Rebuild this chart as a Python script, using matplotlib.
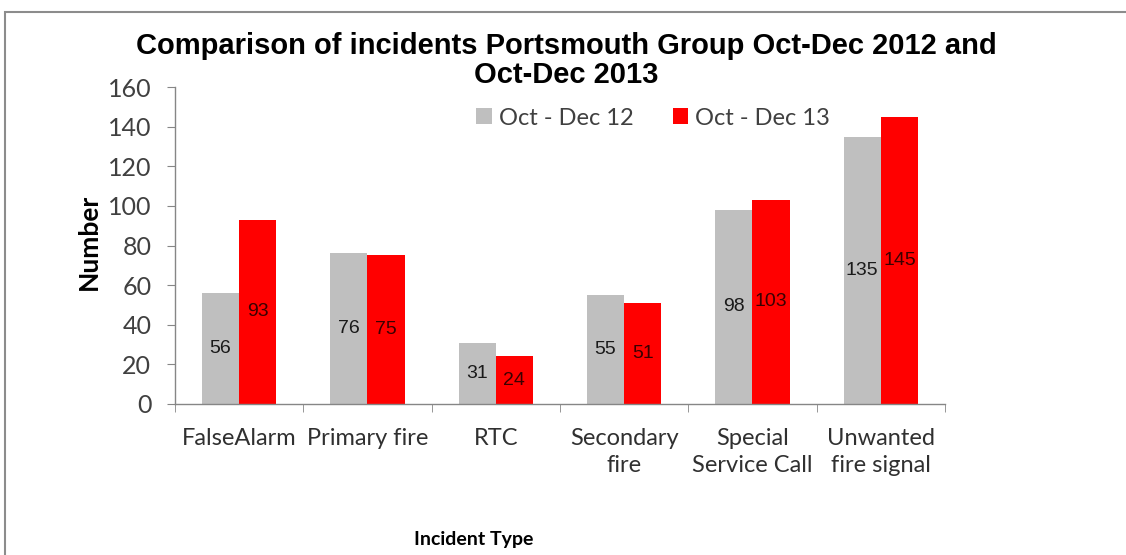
import numpy as np
import matplotlib
matplotlib.use("Agg")
import matplotlib.pyplot as plt
import matplotlib.patches as mpatches

# ── Data ───────────────────────────────────────────────
categories = ["FalseAlarm", "Primary fire", "RTC", "Secondary\nfire",
              "Special\nService Call", "Unwanted\nfire signal"]
oct_dec_12 = [56, 76, 31, 55, 98, 135]
oct_dec_13 = [93, 75, 24, 51, 103, 145]
series_names = ["Oct - Dec 12", "Oct - Dec 13"]
yticks = [0, 20, 40, 60, 80, 100, 120, 140, 160]
title_lines = ["Comparison of incidents Portsmouth Group Oct-Dec 2012 and",
               "Oct-Dec 2013"]

GREY = "#bfbfbf"
RED = "#ff0000"
AXIS = "#868686"
LABEL_FONT = ["Lato", "DejaVu Sans"]
NUM_FONT = ["Liberation Sans", "DejaVu Sans"]

fig = plt.figure(figsize=(11.26, 5.55), dpi=100)
ax = fig.add_axes([0.1554, 0.2721, 0.6838, 0.5711])

# outer chart border
fig.patches.append(mpatches.Rectangle((5 / 1126, -0.05), 1.1, 1.05 - 12 / 555,
                                      transform=fig.transFigure, fill=False,
                                      edgecolor="#8c8c8c", linewidth=1.5))

x = np.arange(len(categories))
w = 0.29
b1 = ax.bar(x - w / 2, oct_dec_12, w, color=GREY, label=series_names[0])
b2 = ax.bar(x + w / 2, oct_dec_13, w, color=RED, label=series_names[1])

for bars, vals, col in [(b1, oct_dec_12, "#1a1a1a"), (b2, oct_dec_13, "#3a0000")]:
    for bar, v in zip(bars, vals):
        ax.text(bar.get_x() + bar.get_width() / 2, v / 2, str(v),
                ha="center", va="center", fontsize=14, color=col,
                family=NUM_FONT)

ax.set_xlim(-0.5, len(categories) - 0.5)
ax.set_ylim(0, 160)
ax.set_yticks(yticks)
ax.set_yticklabels([str(t) for t in yticks], family=LABEL_FONT, fontsize=18,
                   color="#404040")

ax.set_xticks(x)
ax.set_xticklabels(categories, family=LABEL_FONT, fontsize=17,
                   linespacing=1.35, va="top", color="#303030")
ax.set_xticks(np.arange(-0.5, len(categories), 1.0), minor=True)
ax.tick_params(axis="x", which="major", length=0, pad=17)
ax.tick_params(axis="x", which="minor", length=6, color=AXIS, direction="out")
ax.tick_params(axis="y", length=6, color=AXIS, pad=11)

for side in ["top", "right"]:
    ax.spines[side].set_visible(False)
for side in ["left", "bottom"]:
    ax.spines[side].set_color(AXIS)
    ax.spines[side].set_linewidth(1.0)

ax.set_ylabel("Number", fontsize=19, fontweight="bold", family=LABEL_FONT)
ax.yaxis.set_label_coords(-0.096, 0.51)
fig.text(474 / 1126, 1 - 540 / 555, "Incident Type", ha="center", va="center",
         fontsize=14, fontweight="bold", family=LABEL_FONT)

# title, one text per line
for line, ypix in zip(title_lines, [46, 75]):
    fig.text(566 / 1126, 1 - ypix / 555, line, ha="center", va="center",
             fontsize=21, fontweight="bold", family=NUM_FONT)

leg = ax.legend(loc="center", bbox_to_anchor=(0.621, 0.902), ncol=2,
                frameon=False, prop={"family": LABEL_FONT, "size": 17},
                handlelength=0.65, handleheight=0.65, handletextpad=0.3,
                columnspacing=1.66)
for t in leg.get_texts():
    t.set_color("#404040")

fig.savefig("out.png", dpi=100, facecolor="white")
